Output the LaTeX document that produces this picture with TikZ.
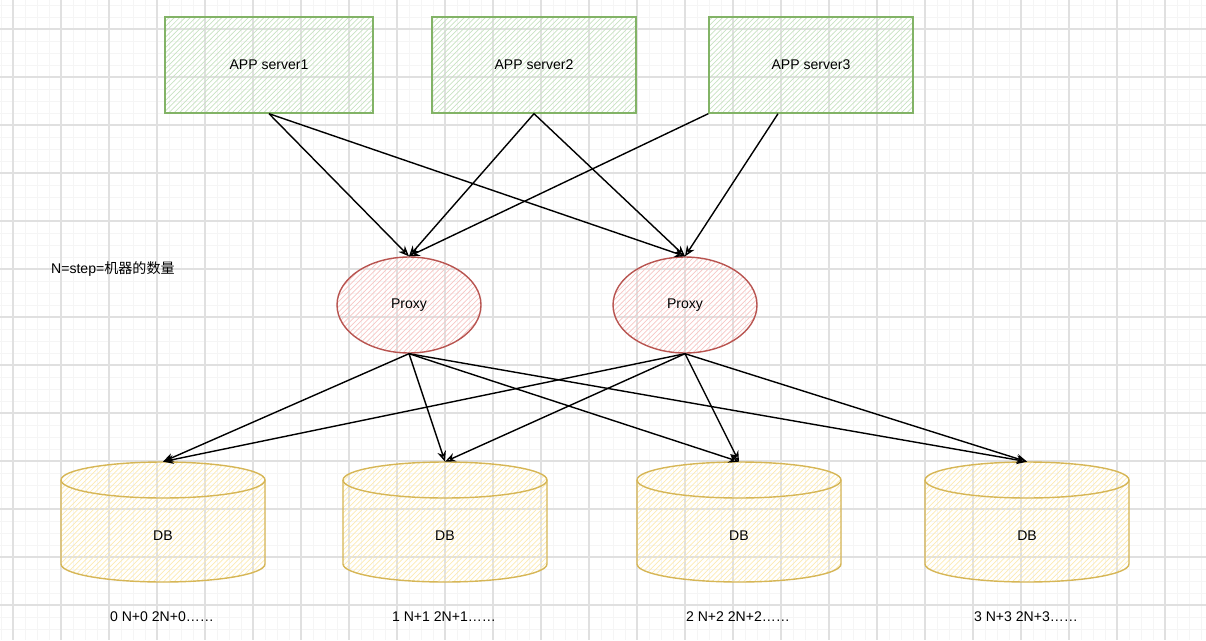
\documentclass[tikz,border=0pt]{standalone}
\usepackage{fontspec}
\setmainfont{Liberation Sans}
\newfontfamily\cjk{Noto Sans CJK SC}
\usepackage{tikz}
\usetikzlibrary{arrows.meta, positioning, calc, shapes.geometric, patterns}
\definecolor{appline}{RGB}{130, 179, 102}
\definecolor{apphatch}{RGB}{200, 226, 194}
\definecolor{proxyline}{RGB}{184, 84, 80}
\definecolor{proxyhatch}{RGB}{246, 198, 196}
\definecolor{dbline}{RGB}{214, 182, 86}
\definecolor{dbhatch}{RGB}{252, 234, 178}
\definecolor{minorgrid}{RGB}{245, 245, 245}
\definecolor{majorgrid}{RGB}{224, 224, 224}

\begin{document}
\begin{tikzpicture}[x=0.02cm, y=0.02cm, >={Stealth[open, length=6pt, width=5pt]},
    every node/.style={font=\fontsize{8pt}{9.6pt}\selectfont},
    app/.style={draw=appline, line width=0.8pt, pattern=north east lines, pattern color=apphatch,
        minimum width=4.08cm, minimum height=1.92cm, inner sep=0pt},
    proxy/.style={ellipse, draw=proxyline, line width=0.8pt, pattern=north east lines, pattern color=proxyhatch,
        minimum width=2.88cm, minimum height=1.92cm, inner sep=0pt},
    dbbox/.style={minimum width=4.08cm, minimum height=2.4cm, inner sep=0pt},
    link/.style={->, line width=0.8pt}]
    \useasboundingbox (0,0) rectangle (1206,640);
    % background grid
    \foreach \x in {1,13,...,1206} \draw[minorgrid, line width=0.5pt] (\x,0) -- (\x,640);
    \foreach \y in {11,23,...,640} \draw[minorgrid, line width=0.5pt] (0,\y) -- (1206,\y);
    \foreach \x in {13,61,...,1206} \draw[majorgrid, line width=0.6pt] (\x,0) -- (\x,640);
    \foreach \y in {35,83,...,640} \draw[majorgrid, line width=0.6pt] (0,\y) -- (1206,\y);

    \node[app, minimum width=4.16cm] (app1) at (269,575) {APP server1};
    \node[app] (app2) at (534,575) {APP server2};
    \node[app] (app3) at (811,575) {APP server3};

    \node[proxy] (proxy1) at (409,335) {Proxy};
    \node[proxy] (proxy2) at (685,335) {Proxy};

    \node[anchor=west] (note) at (45,371) {N=step={\cjk 机器的数量}};

    % databases
    \foreach \n/\x/\k in {db1/163/0, db2/445/1, db3/739/2, db4/1027/3} {
        \draw[dbline, line width=0.8pt, pattern=north east lines, pattern color=dbhatch]
            (\x-102,160) -- (\x-102,76) arc (180:360:2.04cm and 0.36cm)
            -- (\x+102,160) arc (0:180:2.04cm and 0.36cm) -- cycle;
        \draw[dbline, line width=0.8pt] (\x-102,160) arc (180:360:2.04cm and 0.36cm);
        \node[dbbox] (\n) at (\x,118) {};
        \node (\n text) at (\x,104) {DB};
        \node (\n label) at (\x-1,23) {\k{} N+\k{} 2N+\k……};
    }

    \draw[link] (app1.south) -- (proxy1.north);
    \draw[link] (app1.south) -- (proxy2.north);
    \draw[link] (app2.south) -- (proxy1.north);
    \draw[link] (app2.south) -- (proxy2.north);
    \draw[link] (app3.south west) -- (proxy1.north);
    \draw[link] ([xshift=-0.66cm]app3.south) -- (proxy2.north);

    \foreach \p in {proxy1, proxy2}
        \foreach \d in {db1, db2, db3, db4}
            \draw[link] (\p.south) -- (\d.north);
\end{tikzpicture}
\end{document}
